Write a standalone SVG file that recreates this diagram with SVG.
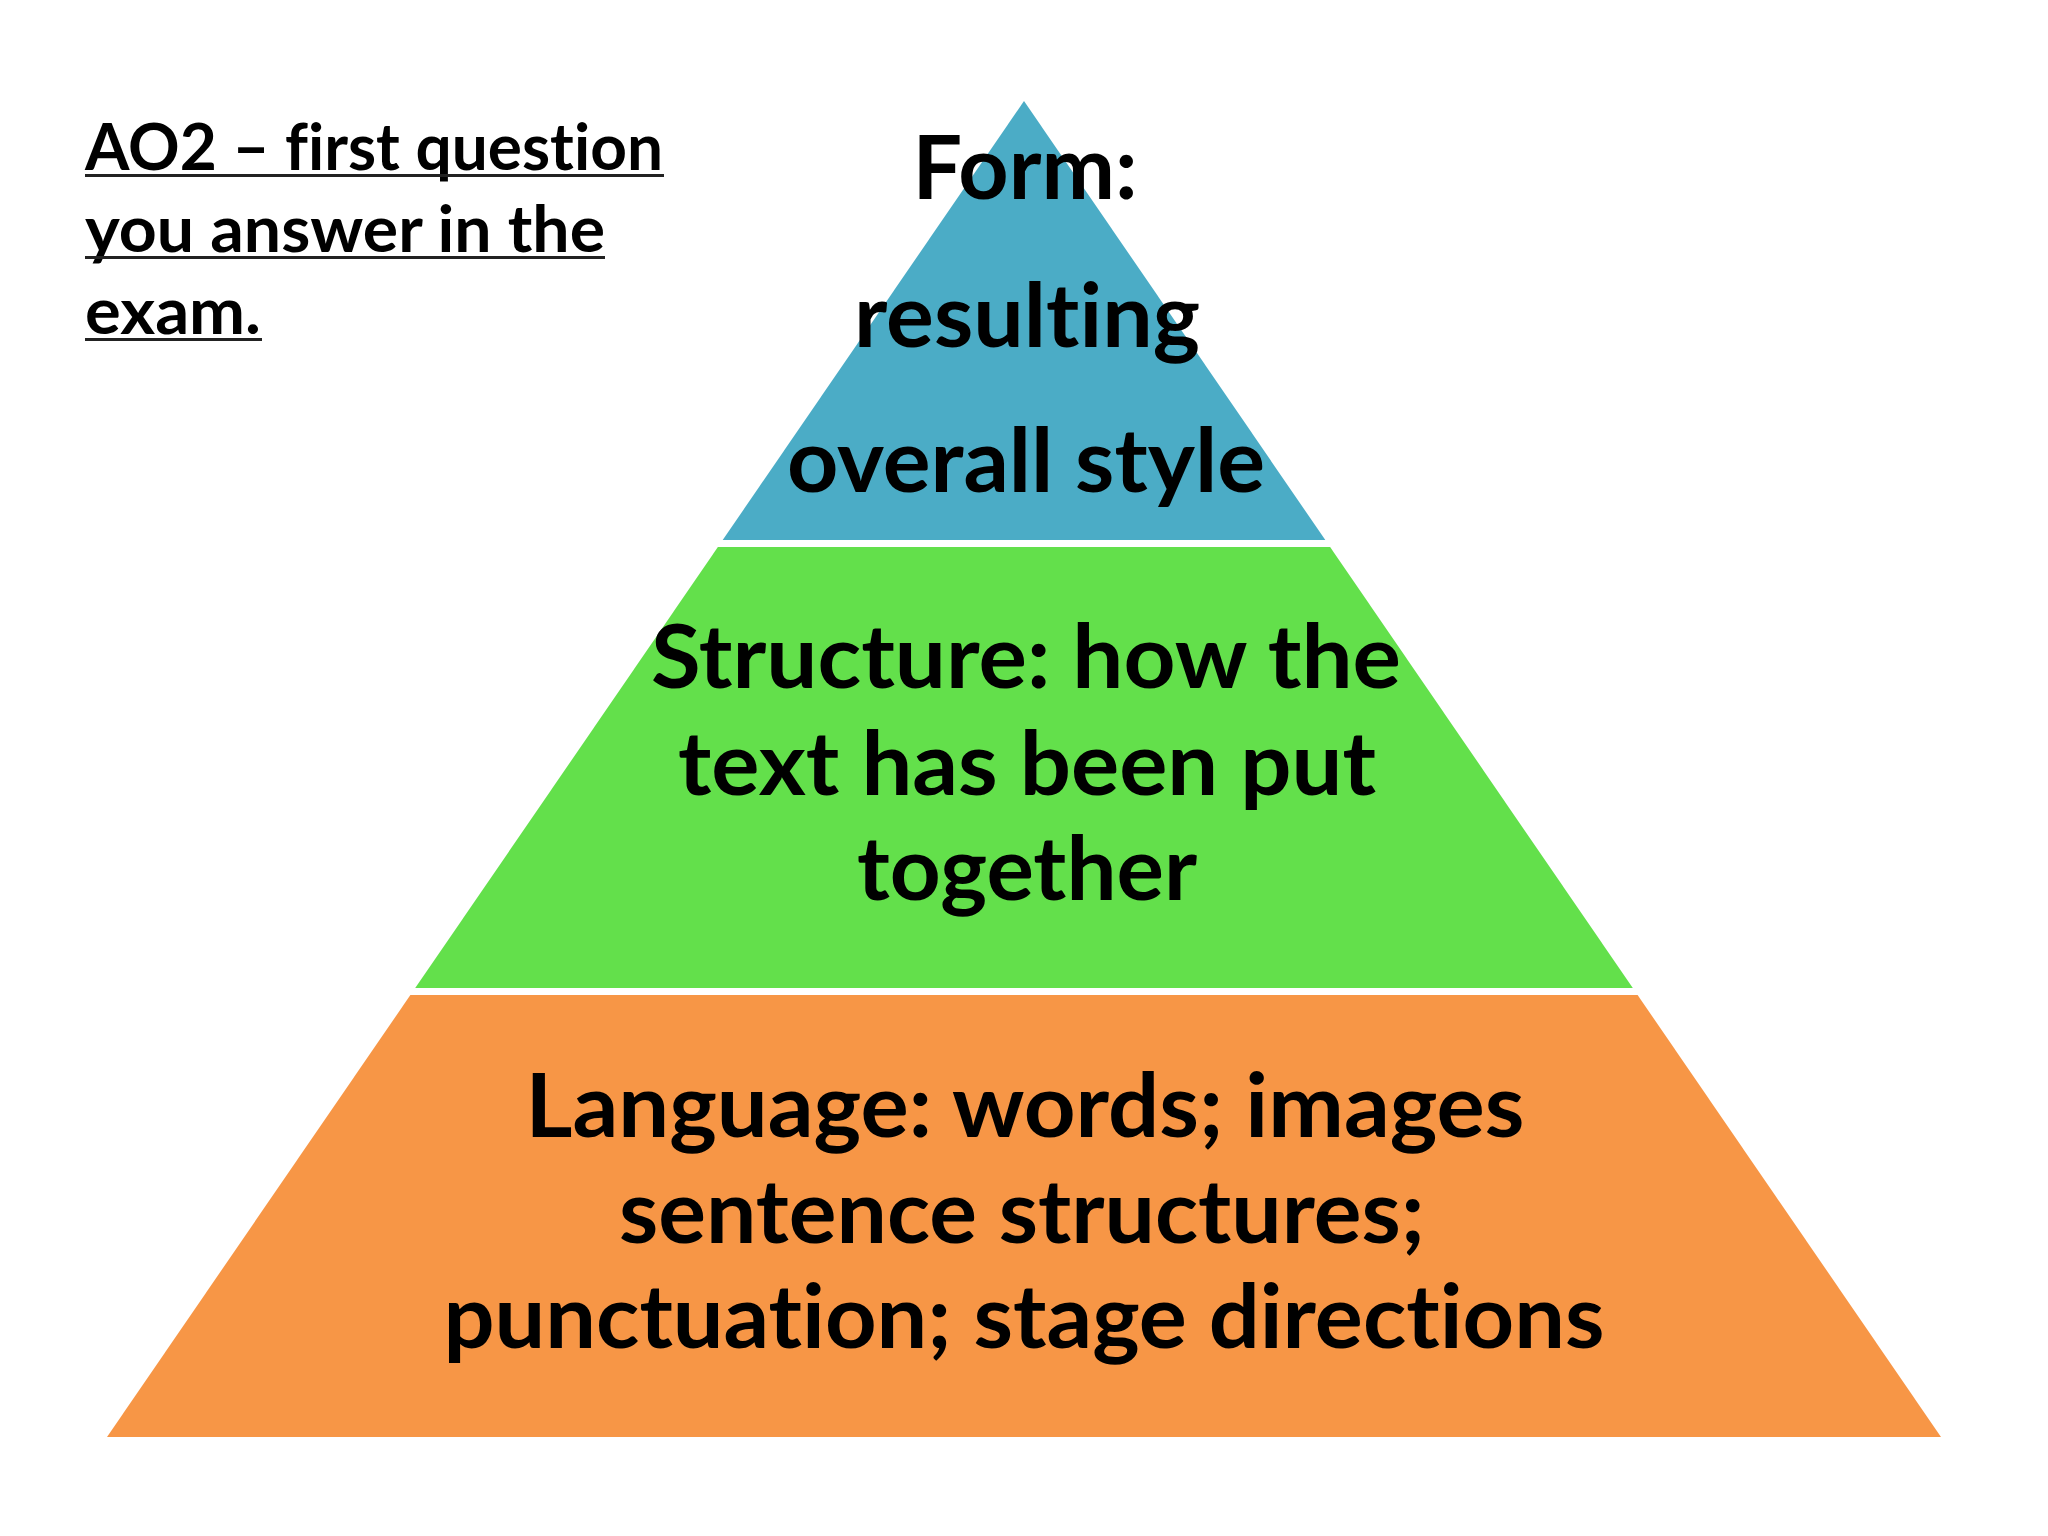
<svg xmlns="http://www.w3.org/2000/svg" width="2048" height="1536" viewBox="0 0 2048 1536">
<style>
.t{font-family:Lato,"Open Sans","Liberation Sans",sans-serif;font-weight:bold;fill:#000;font-variant-ligatures:none;font-feature-settings:"liga" 0;}
.big{font-size:88px;text-anchor:middle;}
.title{font-size:65px;}
.ul{stroke:#222;stroke-width:3;}
</style>
<rect width="2048" height="1536" fill="#fff"/>
<g id="title">
<text class="t title" x="85" y="170" textLength="578" lengthAdjust="spacingAndGlyphs">AO2 – first question</text>
<text class="t title" x="85" y="252" textLength="520" lengthAdjust="spacingAndGlyphs">you answer in the</text>
<text class="t title" x="85" y="334" textLength="176" lengthAdjust="spacingAndGlyphs">exam.</text>
<line class="ul" x1="85" y1="175.5" x2="664" y2="175.5"/>
<line class="ul" x1="85" y1="257.5" x2="605" y2="257.5"/>
<line class="ul" x1="85" y1="339.5" x2="262" y2="339.5"/>
</g>
<g id="form">
<polygon points="1024,101 1325.3,540 722.7,540" fill="#4BACC6"/>
<text class="t big" x="1025" y="199" textLength="225" lengthAdjust="spacingAndGlyphs">Form:</text>
<text class="t big" x="1027" y="347" textLength="346" lengthAdjust="spacingAndGlyphs">resulting</text>
<text class="t big" x="1026" y="492" textLength="478" lengthAdjust="spacingAndGlyphs">overall style</text>
</g>
<g id="structure">
<polygon points="717.9,547 1330.1,547 1632.8,988 415.2,988" fill="#63E04B"/>
<text class="t big" x="1026" y="688" textLength="750" lengthAdjust="spacingAndGlyphs">Structure: how the</text>
<text class="t big" x="1027" y="795" textLength="698" lengthAdjust="spacingAndGlyphs">text has been put</text>
<text class="t big" x="1027" y="900" textLength="340" lengthAdjust="spacingAndGlyphs">together</text>
</g>
<g id="language">
<polygon points="410.4,995 1637.6,995 1941,1437 107,1437" fill="#F79646"/>
<text class="t big" x="1025" y="1137" textLength="999" lengthAdjust="spacingAndGlyphs">Language: words; images</text>
<text class="t big" x="1022" y="1243" textLength="806" lengthAdjust="spacingAndGlyphs">sentence structures;</text>
<text class="t big" x="1024" y="1348" textLength="1161" lengthAdjust="spacingAndGlyphs">punctuation; stage directions</text>
</g>
<g id="connectors"/>
</svg>
